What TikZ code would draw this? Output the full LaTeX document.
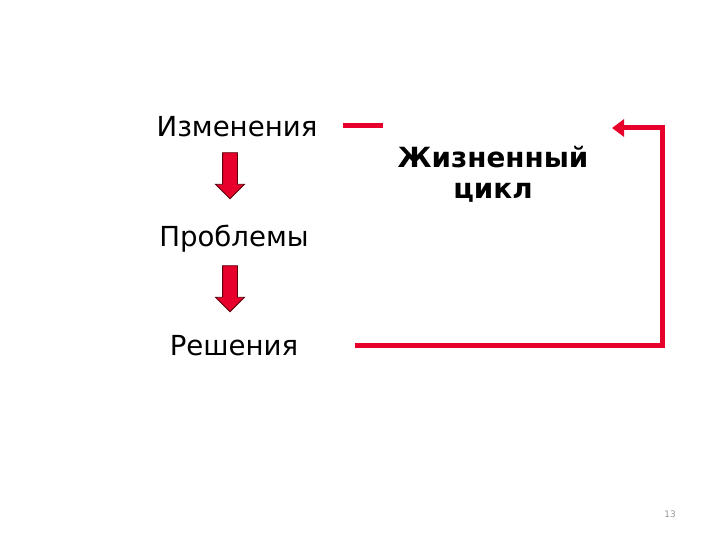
\documentclass[tikz,border=0pt]{standalone}
\usepackage{fontspec}
\setmainfont{DejaVu Sans}
\usetikzlibrary{shapes.arrows,arrows.meta}
\definecolor{lifered}{RGB}{232,0,44}
\definecolor{darkrim}{RGB}{90,0,10}
\tikzset{
  stage/.style={anchor=base, font=\fontsize{27.6}{32}\selectfont},
  downarrow/.style={shape=single arrow, rotate=-90, draw=darkrim, fill=lifered,
    line width=0.8pt, minimum height=46pt, inner xsep=0pt, inner ysep=7pt, single arrow head extend=7pt},
  redline/.style={draw=lifered, line width=5pt}
}
\begin{document}
\begin{tikzpicture}[x=1pt, y=-1pt]
    \useasboundingbox (0,0) rectangle (720,540);
    % Nodes
    \node (izm) [stage] at (237,137) {Изменения};
    \node (prob) [stage] at (234,246) {Проблемы};
    \node (resh) [stage] at (234,355) {Решения};
    \node (arr1) [downarrow] at (230,172) {};
    \node (arr2) [downarrow] at (230,285) {};
    \node (cycle) [font=\bfseries\fontsize{27.8}{31}\selectfont, align=center, anchor=base] at (493,199) {Жизненный\\цикл};
    \node (page) [font=\fontsize{9}{10}\selectfont, text=gray!80] at (670,514) {13};

    \coordinate (gapA) at (343,126);
    \coordinate (gapB) at (383,126);
    \coordinate (loopA) at (355,345);
    \coordinate (loopB) at (662,345);
    \coordinate (loopC) at (662,128);
    \coordinate (loopD) at (612,128);

    % Edges
    \draw[redline] (gapA) -- (gapB);
    \draw[redline, -{Triangle[length=12pt,width=17pt]}] (loopA) -- (loopB) -- (loopC) -- (loopD);
\end{tikzpicture}
\end{document}
